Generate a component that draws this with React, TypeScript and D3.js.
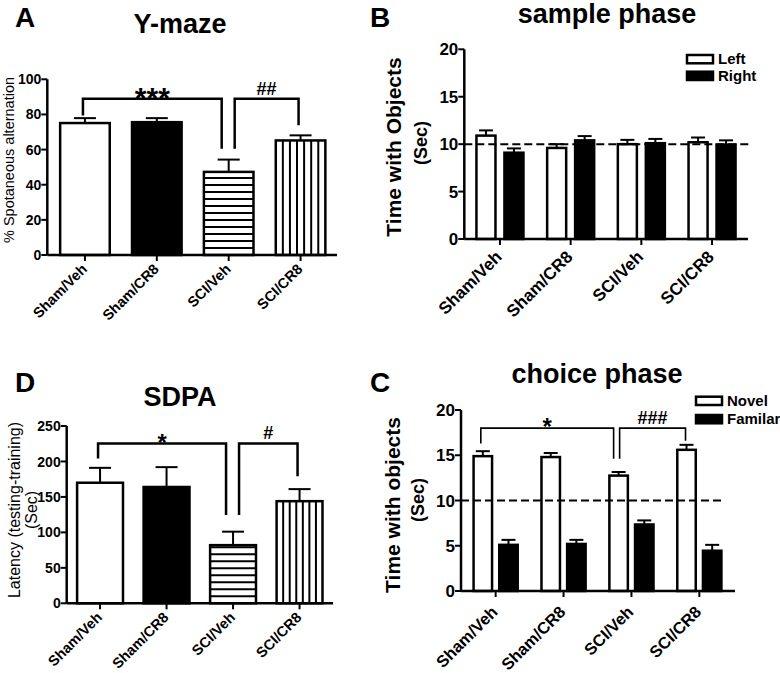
import React from "react";
import * as d3 from "d3";

// ---------- data ----------
const groups = ["Sham/Veh", "Sham/CR8", "SCI/Veh", "SCI/CR8"];
const groupFills = ["white", "black", "hstripe", "vstripe"];

const ymazeMean = [75.1, 75.6, 47.3, 65.2];
const ymazeErr = [2.8, 2.3, 7.0, 2.9];
const ymazeTicks = [0, 20, 40, 60, 80, 100];

const sdpaMean = [170, 164, 82, 144];
const sdpaErr = [21, 28, 19, 17];
const sdpaTicks = [0, 50, 100, 150, 200, 250];

const sampleSeries = ["Left", "Right"];
const sampleLeft = [10.9, 9.6, 10.0, 10.2];
const sampleLeftErr = [0.55, 0.4, 0.45, 0.5];
const sampleRight = [9.1, 10.4, 10.1, 9.95];
const sampleRightErr = [0.45, 0.45, 0.45, 0.45];

const choiceSeries = ["Novel", "Familar"];
const choiceNovel = [14.9, 14.8, 12.75, 15.6];
const choiceNovelErr = [0.55, 0.45, 0.4, 0.55];
const choiceFamiliar = [5.1, 5.2, 7.35, 4.45];
const choiceFamiliarErr = [0.55, 0.45, 0.45, 0.65];
const timeTicks = [0, 5, 10, 15, 20];
const chanceLevel = 10;

const ymazeBrackets = [
  { from: 0, to: 2, level: 88.9, leftEnd: 79.4, rightEnd: 60.5, label: "***" },
  { from: 2, to: 3, level: 88.9, leftEnd: 60.5, rightEnd: 73.8, label: "##" },
];
const sdpaBrackets = [
  { from: 0, to: 2, level: 225.4, leftEnd: 204, rightEnd: 124.4, label: "*" },
  { from: 2, to: 3, level: 225.4, leftEnd: 124.4, rightEnd: 179.3, label: "#" },
];
const choiceBrackets = [
  { from: 0, to: 2, level: 18.0, leftEnd: 16.3, rightEnd: 14.6, label: "*" },
  { from: 2, to: 3, level: 18.0, leftEnd: 14.6, rightEnd: 16.6, label: "###" },
];

const FONT = "'Liberation Sans', Arial, Helvetica, sans-serif";

// ---------- helpers ----------
function Bar({ x, y, w, h, fill }) {
  const lines = [];
  if (fill === "hstripe") {
    for (let yy = y + h - 7; yy > y + 2; yy -= 7) lines.push(<line key={yy} x1={x} x2={x + w} y1={yy} y2={yy} stroke="black" strokeWidth={2} />);
  }
  if (fill === "vstripe") {
    const n = 7;
    for (let i = 1; i < n; i++) {
      const xx = x + (i * w) / n;
      lines.push(<line key={i} x1={xx} x2={xx} y1={y} y2={y + h} stroke="black" strokeWidth={2} />);
    }
  }
  const bg = fill === "black" ? "black" : "white";
  return (
    <g>
      <rect x={x} y={y} width={w} height={h} fill={bg} />
      {lines}
      <rect x={x} y={y} width={w} height={h} fill="none" stroke="black" strokeWidth={2.5} />
    </g>
  );
}

function ErrBar({ cx, top, cap, capW }) {
  return (
    <g stroke="black" strokeWidth={2}>
      <line x1={cx} x2={cx} y1={top} y2={cap} />
      <line x1={cx - capW / 2} x2={cx + capW / 2} y1={cap} y2={cap} />
    </g>
  );
}

function Axes({ frame, y, ticks, xCenters, tickFont, labels, labelFont, ldx, ldy }) {
  const { axisX, axisEnd, yTop, yBottom } = frame;
  return (
    <g>
      <line x1={axisX} x2={axisX} y1={yBottom} y2={yTop} stroke="black" strokeWidth={2.5} />
      <line x1={axisX} x2={axisEnd} y1={yBottom} y2={yBottom} stroke="black" strokeWidth={2.5} />
      {ticks.map((t) => (
        <g key={t}>
          <line x1={axisX - 6} x2={axisX} y1={y(t)} y2={y(t)} stroke="black" strokeWidth={2} />
          <text x={axisX - 6} y={y(t)} dy="0.36em" textAnchor="end" fontSize={tickFont} fontWeight="bold" fontFamily={FONT}>
            {t}
          </text>
        </g>
      ))}
      {xCenters.map((c, i) => (
        <g key={i}>
          <line x1={c} x2={c} y1={yBottom} y2={yBottom + 6} stroke="black" strokeWidth={2} />
          <text
            transform={`translate(${c + ldx},${yBottom + ldy}) rotate(-45)`}
            textAnchor="end"
            fontSize={labelFont}
            fontWeight="bold"
            fontFamily={FONT}
          >
            {labels[i]}
          </text>
        </g>
      ))}
    </g>
  );
}

function Brackets({ brackets, y, xs, offsets, sw, markFont, starFont }) {
  return (
    <g>
      {brackets.map((b, i) => {
        const [o1, o2] = offsets[i];
        const x1 = xs[b.from] + o1;
        const x2 = xs[b.to] + o2;
        const ly = y(b.level);
        const isStar = b.label.startsWith("*");
        return (
          <g key={i}>
            <path
              d={`M${x1},${y(b.leftEnd)}V${ly}H${x2}V${y(b.rightEnd)}`}
              fill="none"
              stroke="black"
              strokeWidth={sw}
            />
            <text
              x={(x1 + x2) / 2}
              y={isStar ? ly + starFont * 0.3 : ly - 4}
              textAnchor="middle"
              fontSize={isStar ? starFont : markFont}
              fontWeight="bold"
              fontFamily={FONT}
            >
              {b.label}
            </text>
          </g>
        );
      })}
    </g>
  );
}

function SinglePanel({ frame, means, errs, ticks, brackets, maxV, starFont }) {
  const y = d3.scaleLinear().domain([0, maxV]).range([frame.yBottom, frame.yTop]);
  const x = d3
    .scaleBand()
    .domain(groups)
    .range([frame.bandStart, frame.bandEnd])
    .paddingInner(0.31)
    .paddingOuter(0.155);
  const centers = groups.map((g) => x(g) + x.bandwidth() / 2);
  return (
    <g>
      {groups.map((g, i) => (
        <g key={g}>
          <Bar x={x(g)} y={y(means[i])} w={x.bandwidth()} h={y(0) - y(means[i])} fill={groupFills[i]} />
          <ErrBar cx={centers[i]} top={y(means[i])} cap={y(means[i] + errs[i])} capW={22} />
        </g>
      ))}
      <Axes frame={frame} y={y} ticks={ticks} xCenters={centers} tickFont={14} labels={groups} labelFont={14.5} ldx={3} ldy={15} />
      <Brackets brackets={brackets} y={y} xs={centers} offsets={[[-2, -7], [6, -2]]} sw={2.5} markFont={18} starFont={starFont} />
    </g>
  );
}

function PairPanel({ frame, a, aErr, b, bErr, series, legend, brackets, innerPad, outerPadInner, labelFont, ldy }) {
  const y = d3.scaleLinear().domain([0, 20]).range([frame.yBottom, frame.yTop]);
  const x0 = d3
    .scaleBand()
    .domain(groups)
    .range([frame.bandStart, frame.bandEnd])
    .paddingInner(outerPadInner)
    .paddingOuter(outerPadInner / 2);
  const x1 = d3.scaleBand().domain(series).range([0, x0.bandwidth()]).paddingInner(innerPad);
  const centers = groups.map((g) => x0(g) + x0.bandwidth() / 2);
  const vals = [a, b];
  const errs = [aErr, bErr];
  const fills = ["white", "black"];
  const firstCenters = groups.map((g) => x0(g) + x1(series[0]) + x1.bandwidth() / 2);
  return (
    <g>
      {groups.map((g, i) => (
        <g key={g}>
          {series.map((s, k) => {
            const bx = x0(g) + x1(s);
            const v = vals[k][i];
            return (
              <g key={s}>
                <Bar x={bx} y={y(v)} w={x1.bandwidth()} h={y(0) - y(v)} fill={fills[k]} />
                <ErrBar cx={bx + x1.bandwidth() / 2} top={y(v)} cap={y(v + errs[k][i])} capW={14} />
              </g>
            );
          })}
        </g>
      ))}
      <line
        x1={frame.axisX}
        x2={frame.dashEnd}
        y1={y(chanceLevel)}
        y2={y(chanceLevel)}
        stroke="black"
        strokeWidth={2}
        strokeDasharray="8,4"
      />
      <Axes frame={frame} y={y} ticks={timeTicks} xCenters={centers} tickFont={17} labels={groups} labelFont={labelFont} ldx={3} ldy={ldy} />
      {series.map((s, k) => (
        <g key={s}>
          <rect
            x={legend.x}
            y={legend.y + k * legend.dy}
            width={26}
            height={8.3}
            fill={fills[k]}
            stroke="black"
            strokeWidth={2.5}
          />
          <text x={legend.x + 31} y={legend.y + k * legend.dy + 8.8} fontSize={15} fontWeight="bold" fontFamily={FONT}>
            {s}
          </text>
        </g>
      ))}
      {brackets ? (
        <Brackets brackets={brackets} y={y} xs={firstCenters} offsets={[[-2, -5], [1, -1]]} sw={1.6} markFont={18} starFont={24} />
      ) : null}
    </g>
  );
}

function Letter({ x, y, t }) {
  return (
    <text x={x} y={y} fontSize={28} fontWeight="bold" fontFamily={FONT}>
      {t}
    </text>
  );
}

function Title({ x, y, t }) {
  return (
    <text x={x} y={y} textAnchor="middle" fontSize={27} fontWeight="bold" fontFamily={FONT}>
      {t}
    </text>
  );
}

function VLabel({ x, y, t, size, bold }) {
  return (
    <text
      transform={`translate(${x},${y}) rotate(-90)`}
      textAnchor="middle"
      fontSize={size}
      fontWeight={bold ? "bold" : "normal"}
      fontFamily={FONT}
    >
      {t}
    </text>
  );
}

export default function App() {
  const frameA = { axisX: 47.3, axisEnd: 337, yTop: 79.3, yBottom: 255, bandStart: 49, bandEnd: 336.5 };
  const frameD = { axisX: 66.7, axisEnd: 333, yTop: 426, yBottom: 603.3, bandStart: 66.8, bandEnd: 332.8 };
  const frameB = { axisX: 464.3, axisEnd: 748, yTop: 49.3, yBottom: 239, bandStart: 464.6, bandEnd: 747.4, dashEnd: 750 };
  const frameC = { axisX: 461, axisEnd: 735, yTop: 410, yBottom: 591, bandStart: 461.7, bandEnd: 733.3, dashEnd: 724 };
  return (
    <svg width={780} height={673} style={{ position: "absolute", left: 0, top: 0, background: "white" }}>
      <rect width={780} height={673} fill="white" />
      <Letter x={15} y={27} t="A" />
      <Letter x={370} y={27} t="B" />
      <Letter x={15} y={392} t="D" />
      <Letter x={370} y={392} t="C" />
      <Title x={180} y={33} t="Y-maze" />
      <Title x={607} y={23} t="sample phase" />
      <Title x={180} y={406} t="SDPA" />
      <Title x={597} y={383} t="choice phase" />

      <VLabel x={14} y={160} t="% Spotaneous alternation" size={14.5} />
      <VLabel x={20} y={510} t="Latency (testing-training)" size={16} />
      <VLabel x={37} y={510} t="(Sec)" size={16} />
      <VLabel x={401} y={147} t="Time with Objects" size={21} bold />
      <VLabel x={427} y={143} t="(Sec)" size={18} bold />
      <VLabel x={400} y={505} t="Time with objects" size={21} bold />
      <VLabel x={424} y={500} t="(Sec)" size={18} bold />

      <SinglePanel frame={frameA} means={ymazeMean} errs={ymazeErr} ticks={ymazeTicks} brackets={ymazeBrackets} maxV={100} starFont={30} />
      <SinglePanel frame={frameD} means={sdpaMean} errs={sdpaErr} ticks={sdpaTicks} brackets={sdpaBrackets} maxV={250} starFont={24} />
      <PairPanel
        frame={frameB}
        a={sampleLeft}
        aErr={sampleLeftErr}
        b={sampleRight}
        bErr={sampleRightErr}
        series={sampleSeries}
        legend={{ x: 687, y: 55, dy: 16.7 }}
        innerPad={0.32}
        outerPadInner={0.335}
        labelFont={17}
        ldy={19}
      />
      <PairPanel
        frame={frameC}
        a={choiceNovel}
        aErr={choiceNovelErr}
        b={choiceFamiliar}
        bErr={choiceFamiliarErr}
        series={choiceSeries}
        legend={{ x: 696, y: 396.7, dy: 18.3 }}
        brackets={choiceBrackets}
        innerPad={0.28}
        outerPadInner={0.35}
        labelFont={16.5}
        ldy={22}
      />
    </svg>
  );
}
